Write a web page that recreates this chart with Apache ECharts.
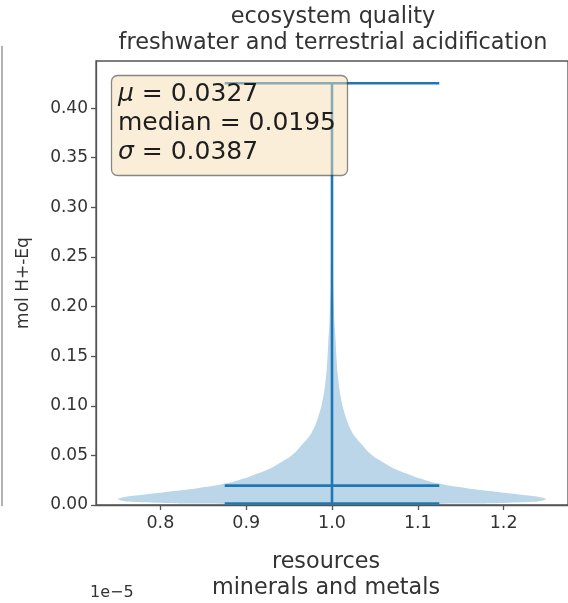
<!DOCTYPE html>
<html><head><meta charset="utf-8">
<script src="https://cdn.jsdelivr.net/npm/echarts@6/dist/echarts.min.js"></script>
<style>html,body{margin:0;padding:0;background:#fff}#c{width:568px;height:603px}</style>
</head><body><div id="c"></div>
<script>
// ---- data ----
const titleLines = ['ecosystem quality', 'freshwater and terrestrial acidification'];
const xLabelLines = ['resources', 'minerals and metals'];
const yLabel = 'mol H+-Eq';
const offsetText = '1e\u22125';
const xTicks = [0.8, 0.9, 1.0, 1.1, 1.2];
const yTicks = [0.00, 0.05, 0.10, 0.15, 0.20, 0.25, 0.30, 0.35, 0.40];
const violinPosition = 1.0;
const violinY =         [0.0015, 0.0035, 0.0060, 0.0084, 0.0124, 0.0151, 0.0195, 0.0235, 0.0279, 0.0319, 0.0353, 0.0386, 0.0453, 0.0487, 0.0537, 0.0588, 0.0655, 0.0723, 0.0823, 0.0990, 0.1160, 0.1330, 0.1490, 0.1660, 0.1830, 0.2200, 0.3000, 0.4250];
const violinHalfWidth = [0.170,  0.240,  0.250,  0.240,  0.200,  0.173,  0.138,  0.115,  0.098,  0.086,  0.076,  0.068,  0.055,  0.049,  0.042,  0.037,  0.030,  0.024,  0.0185, 0.0125, 0.0088, 0.0065, 0.0052, 0.0042, 0.0030, 0.0015, 0.0006, 0.0003];
const statMin = 0.0015, statMedian = 0.0195, statMax = 0.425;
const capHalfWidth = 0.125;
const statNames = ['\u03bc', 'median', '\u03c3'];
const statValues = ['0.0327', '0.0195', '0.0387'];

// ---- chart ----
const blue = '#1f77b4';
const txt = '#333';
const chart = echarts.init(document.getElementById('c'), null, {renderer: 'canvas'});

const violinSeries = {
  type: 'custom',
  z: 2,
  data: [[violinPosition]],
  renderItem: function (params, api) {
    const pos = api.value(0);
    const pts = [];
    for (let i = 0; i < violinY.length; i++) pts.push(api.coord([pos - violinHalfWidth[i], violinY[i]]));
    for (let i = violinY.length - 1; i >= 0; i--) pts.push(api.coord([pos + violinHalfWidth[i], violinY[i]]));
    return {type: 'polygon', shape: {points: pts, smooth: 0.2}, style: {fill: 'rgba(31,119,180,0.3)', stroke: null}};
  }
};

const statSeries = {
  type: 'custom',
  z: 3,
  data: [[violinPosition, statMin, statMedian, statMax]],
  renderItem: function (params, api) {
    const pos = api.value(0);
    const lw = 2.6;
    const mk = (a, b) => ({type: 'line', shape: {x1: a[0], y1: a[1], x2: b[0], y2: b[1]}, style: {stroke: blue, lineWidth: lw}});
    const children = [mk(api.coord([pos, api.value(1)]), api.coord([pos, api.value(3)]))];
    [1, 2, 3].forEach(k => {
      children.push(mk(api.coord([pos - capHalfWidth, api.value(k)]), api.coord([pos + capHalfWidth, api.value(k)])));
    });
    return {type: 'group', children: children};
  }
};

const boxTexts = statNames.map((n, i) => ({
  type: 'text',
  x: 118, y: 94 + i * 29.2,
  style: {
    text: (i === 1 ? n : '{i|' + n + '}') + ' = ' + statValues[i],
    font: '25px "DejaVu Sans"',
    fill: '#1e1e1e',
    verticalAlign: 'middle',
    rich: {i: {fontStyle: 'italic', fontSize: 25, fontFamily: 'DejaVu Sans', fill: '#1e1e1e'}}
  },
  z: 101
}));

chart.setOption({
  animation: false,
  backgroundColor: '#fff',
  textStyle: {fontFamily: 'DejaVu Sans'},
  grid: {left: 96, top: 61, width: 477, height: 444, show: true, borderColor: '#555', borderWidth: 1.3, backgroundColor: 'transparent'},
  xAxis: {
    type: 'value', min: 0.725, max: 1.275,
    axisLine: {show: true, lineStyle: {color: '#555', width: 1.3}},
    axisTick: {show: true, length: 5, lineStyle: {color: '#555', width: 1.3}, customValues: xTicks},
    axisLabel: {show: true, customValues: xTicks, formatter: v => v.toFixed(1), fontSize: 17.5, color: txt, margin: 9, fontFamily: 'DejaVu Sans'},
    splitLine: {show: false}
  },
  yAxis: {
    type: 'value', min: 0, max: 0.4475,
    axisLine: {show: true, lineStyle: {color: '#555', width: 1.3}},
    axisTick: {show: true, length: 5, lineStyle: {color: '#555', width: 1.3}, customValues: yTicks},
    axisLabel: {show: true, customValues: yTicks, formatter: v => v.toFixed(2), fontSize: 17, color: txt, margin: 8, fontFamily: 'DejaVu Sans'},
    splitLine: {show: false}
  },
  graphic: [
    {type: 'line', shape: {x1: 2, y1: 46, x2: 2, y2: 506}, style: {stroke: '#999', lineWidth: 1.5}},
    {type: 'text', x: 333, y: 17, style: {text: titleLines[0], font: '22.4px "DejaVu Sans"', fill: txt, align: 'center', verticalAlign: 'middle'}},
    {type: 'text', x: 333, y: 43, style: {text: titleLines[1], font: '22.4px "DejaVu Sans"', fill: txt, align: 'center', verticalAlign: 'middle'}},
    {type: 'text', x: 326, y: 562, style: {text: xLabelLines[0], font: '22.3px "DejaVu Sans"', fill: txt, align: 'center', verticalAlign: 'middle'}},
    {type: 'text', x: 326, y: 588, style: {text: xLabelLines[1], font: '22.3px "DejaVu Sans"', fill: txt, align: 'center', verticalAlign: 'middle'}},
    {type: 'text', x: 90, y: 593, style: {text: offsetText, font: '16px "DejaVu Sans"', fill: txt, align: 'left', verticalAlign: 'middle'}},
    {type: 'text', x: 24, y: 283, rotation: Math.PI / 2, style: {text: yLabel, font: '17px "DejaVu Sans"', fill: txt, align: 'center', verticalAlign: 'middle'}},
    {type: 'rect', shape: {x: 111.5, y: 75.5, width: 236, height: 100, r: 6}, style: {fill: 'rgba(245,222,179,0.5)', stroke: 'rgba(0,0,0,0.45)', lineWidth: 1.3}, z: 100}
  ].concat(boxTexts),
  series: [violinSeries, statSeries]
});
</script>
</body></html>
